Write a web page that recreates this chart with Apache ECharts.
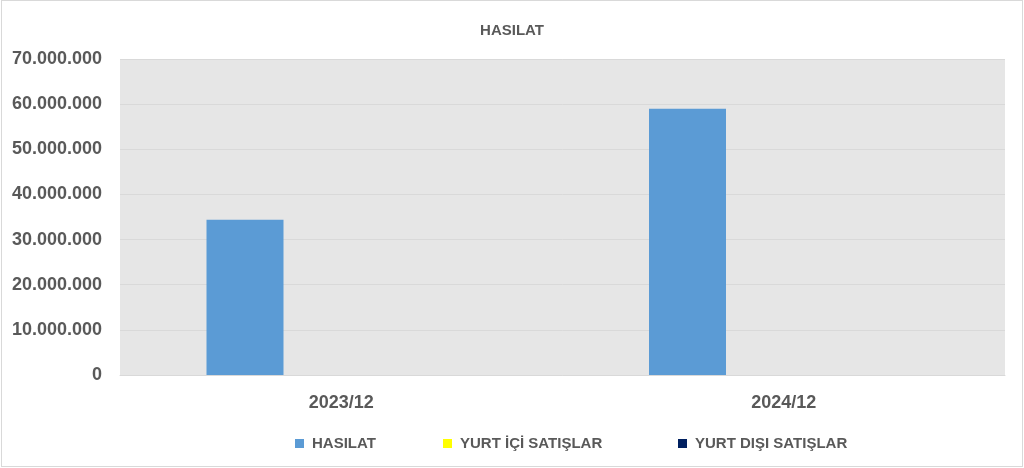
<!DOCTYPE html>
<html>
<head>
<meta charset="utf-8">
<script src="https://cdn.jsdelivr.net/npm/echarts@6/dist/echarts.min.js"></script>
<style>
html,body{margin:0;padding:0;background:#fff;}
#c{width:1024px;height:468px;position:absolute;left:0;top:0;}
#b{position:absolute;left:1px;top:0px;width:1020px;height:465px;border:1px solid #d9d9d9;pointer-events:none;}
</style>
</head>
<body>
<div id="c"></div>
<div id="b"></div>
<script>
var categories = ['2023/12', '2024/12'];
var seriesNames = ['HASILAT', 'YURT İÇİ SATIŞLAR', 'YURT DIŞI SATIŞLAR'];
var hasilat = [34400000, 59000000];
var yurtIci = [0, 0];
var yurtDisi = [0, 0];
var colors = ['#5b9bd5', '#ffff00', '#002060'];

function fmt(v) {
  return String(Math.round(v)).replace(/\B(?=(\d{3})+(?!\d))/g, '.');
}

var chart = echarts.init(document.getElementById('c'));
var txt = '#595959';
var ff = '"Liberation Sans", Arial, sans-serif';
function legendAt(name, left) {
  return {
    data: [name], left: left, top: 431, icon: 'rect', itemWidth: 9, itemHeight: 9,
    textStyle: {color: txt, fontSize: 15, fontWeight: 'bold', fontFamily: ff, padding: [0, 0, 0, 3]},
    selectedMode: false
  };
}
chart.setOption({
  animation: false,
  color: colors,
  title: {
    text: 'HASILAT', left: 'center', top: 18,
    textStyle: {color: txt, fontSize: 15, fontWeight: 'bold', fontFamily: ff}
  },
  legend: [
    legendAt(seriesNames[0], 290),
    legendAt(seriesNames[1], 438),
    legendAt(seriesNames[2], 673)
  ],
  grid: {
    left: 120, right: 19, top: 59, bottom: 93, show: true,
    backgroundColor: '#e6e6e6', borderWidth: 0, containLabel: false
  },
  xAxis: {
    type: 'category', data: categories,
    axisLine: {show: true, lineStyle: {color: '#d9d9d9', width: 1}},
    axisTick: {show: false},
    axisLabel: {color: txt, fontSize: 18, fontWeight: 'bold', fontFamily: ff, margin: 19}
  },
  yAxis: {
    type: 'value', min: 0, max: 70000000, interval: 10000000,
    axisLine: {show: false}, axisTick: {show: false},
    splitLine: {lineStyle: {color: '#d9d9d9', width: 1}},
    axisLabel: {color: txt, fontSize: 18, fontWeight: 'bold', fontFamily: ff, margin: 18, padding: [4, 0, 0, 0], formatter: fmt}
  },
  series: [
    {name: seriesNames[0], type: 'bar', data: hasilat, barWidth: 77, barGap: '25%'},
    {name: seriesNames[1], type: 'bar', data: yurtIci, barWidth: 77, barGap: '25%'},
    {name: seriesNames[2], type: 'bar', data: yurtDisi, barWidth: 77, barGap: '25%'}
  ]
});
</script>
</body>
</html>
